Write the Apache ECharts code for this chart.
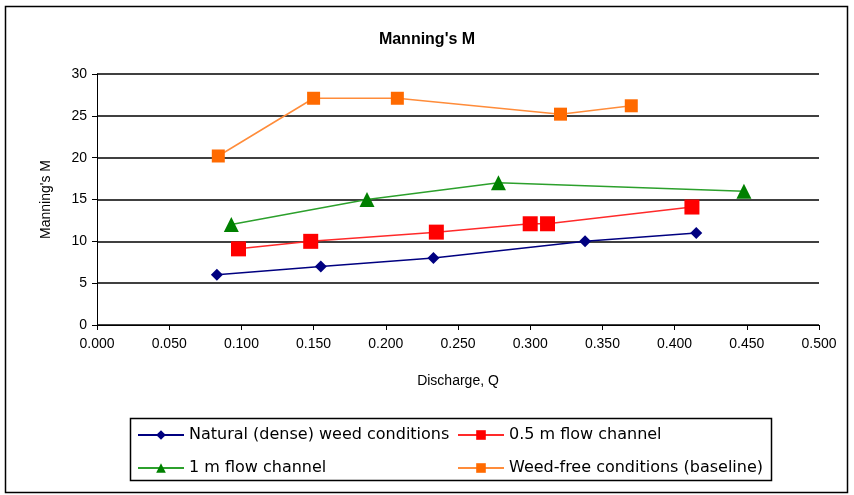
<!DOCTYPE html>
<html>
<head>
<meta charset="utf-8">
<script src="https://cdn.jsdelivr.net/npm/echarts@6/dist/echarts.min.js"></script>
<style>
  html, body { margin: 0; padding: 0; background: #fff; }
  #chart { width: 854px; height: 495px; }
</style>
</head>
<body>
<div id="chart"></div>
<script>
// values: [discharge Q, Manning's M]
var naturalWeed = [[0.083, 6], [0.155, 7], [0.233, 8], [0.338, 10], [0.415, 11]]
var flow05m = [[0.098, 9.1], [0.148, 10], [0.235, 11.1], [0.300, 12.1], [0.312, 12.1], [0.412, 14.1]]
var flow1m = [[0.093, 12], [0.187, 15], [0.278, 17], [0.448, 16]]
var weedFree = [[0.084, 20.2], [0.150, 27.1], [0.208, 27.1], [0.321, 25.2], [0.370, 26.2]]
var seriesNames = ['Natural (dense) weed conditions', '0.5 m flow channel', '1 m flow channel', 'Weed-free conditions (baseline)']

var chart = echarts.init(document.getElementById('chart'))
var font = 'Liberation Sans, Arial, sans-serif'
var legendFont = 'DejaVu Sans, sans-serif'

function mkSeries(name, data, color, symbol, size, lineColor) {
  return {
    name: name,
    type: 'line',
    data: data,
    symbol: symbol,
    symbolSize: size,
    showAllSymbol: true,
    animation: false,
    itemStyle: { color: color },
    lineStyle: { color: lineColor || color, width: 1.5 }
  }
}

var legendText = { fontFamily: legendFont, fontSize: 16, lineHeight: 18, color: '#000' }

chart.setOption({
  backgroundColor: '#fff',
  title: {
    text: "Manning's M",
    left: 'center',
    top: 27,
    textStyle: { fontFamily: font, fontSize: 16, fontWeight: 'bold', color: '#000' }
  },
  grid: { left: 97, right: 35, top: 74, bottom: 170 },
  xAxis: {
    type: 'value',
    min: 0,
    max: 0.5,
    interval: 0.05,
    name: 'Discharge, Q',
    nameLocation: 'middle',
    nameGap: 49,
    nameTextStyle: { fontFamily: font, fontSize: 14, color: '#000' },
    axisLine: { lineStyle: { color: '#000', width: 1 } },
    axisTick: { show: true, length: 5, lineStyle: { color: '#000' } },
    axisLabel: { fontFamily: font, fontSize: 14, color: '#000', margin: 12,
      formatter: function (v) { return v.toFixed(3) } },
    splitLine: { show: false }
  },
  yAxis: {
    type: 'value',
    min: 0,
    max: 30,
    interval: 5,
    name: "Manning's M",
    nameLocation: 'middle',
    nameGap: 44,
    nameTextStyle: { fontFamily: font, fontSize: 14, color: '#000' },
    axisLine: { show: true, lineStyle: { color: '#000', width: 1 } },
    axisTick: { show: true, length: 5, lineStyle: { color: '#000' } },
    axisLabel: { fontFamily: font, fontSize: 14, color: '#000', margin: 10 },
    splitLine: { show: true, lineStyle: { color: '#000', width: 1.5 } }
  },
  legend: [
    {
      data: [seriesNames[0], seriesNames[2]],
      orient: 'vertical',
      left: 132,
      top: 421,
      itemGap: 15,
      itemWidth: 46,
      itemHeight: 12,
      textStyle: legendText
    },
    {
      data: [seriesNames[1], seriesNames[3]],
      orient: 'vertical',
      left: 452,
      top: 421,
      itemGap: 15,
      itemWidth: 46,
      itemHeight: 12,
      textStyle: legendText
    }
  ],
  graphic: [
    { type: 'rect', shape: { x: 5.5, y: 6.5, width: 842, height: 486 },
      style: { fill: null, stroke: '#000', lineWidth: 1.5 }, silent: true },
    { type: 'rect', shape: { x: 130.5, y: 418.5, width: 641, height: 62 },
      style: { fill: null, stroke: '#000', lineWidth: 1.5 }, silent: true }
  ],
  series: [
    mkSeries(seriesNames[0], naturalWeed, '#000080', 'diamond', 12),
    mkSeries(seriesNames[1], flow05m, '#ff0000', 'rect', 15, '#ff2a2a'),
    mkSeries(seriesNames[2], flow1m, '#008000', 'triangle', 15, '#2ca02c'),
    mkSeries(seriesNames[3], weedFree, '#ff6a00', 'rect', 13, '#ff8c3a')
  ]
})
</script>
</body>
</html>
